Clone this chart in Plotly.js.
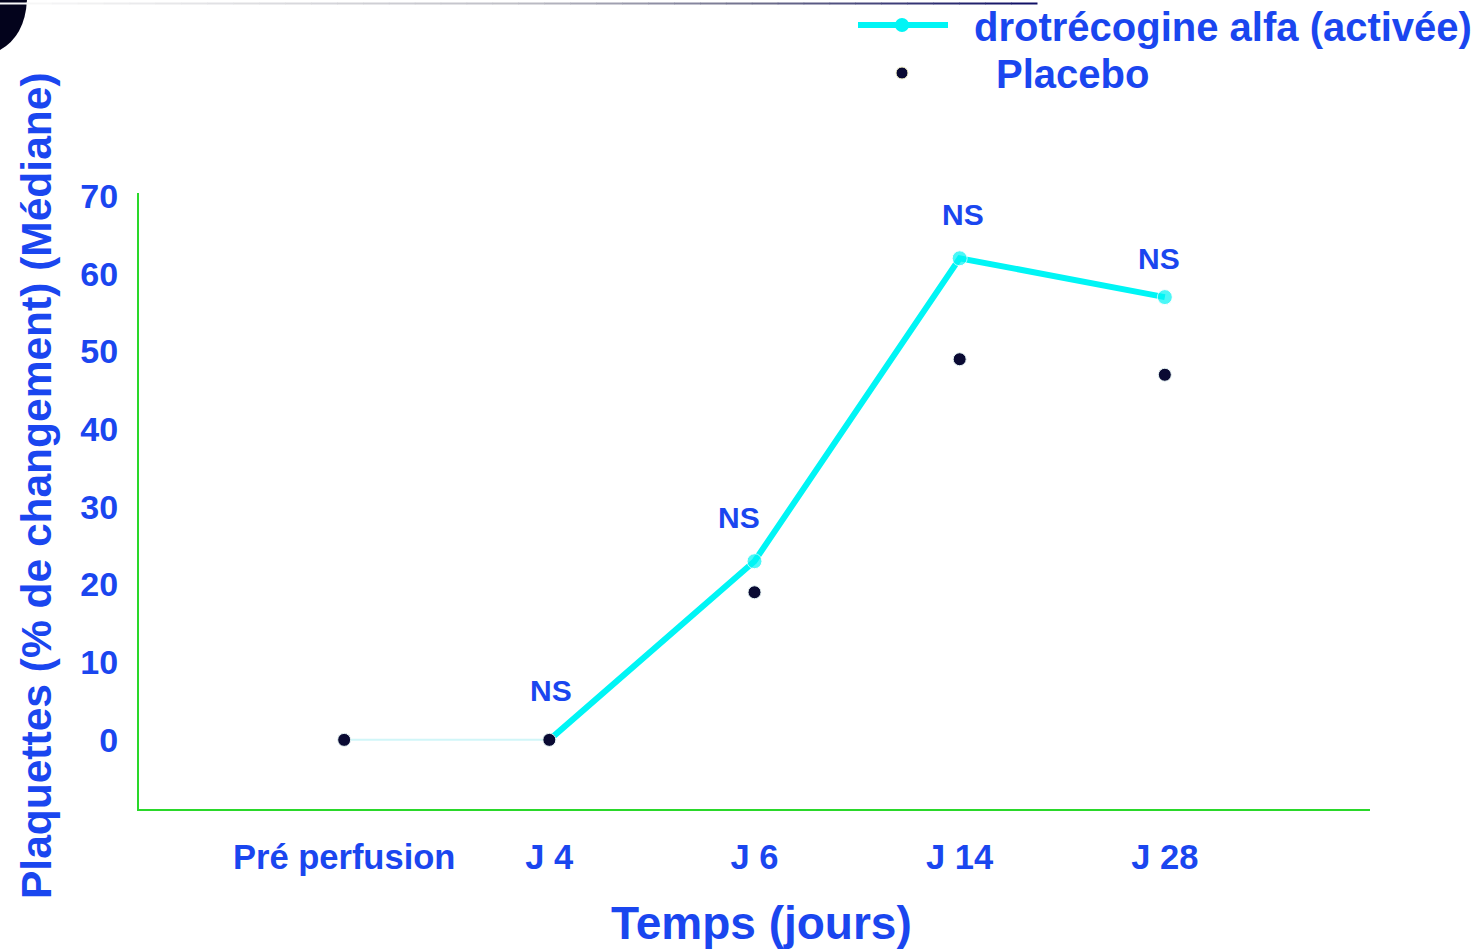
<!DOCTYPE html>
<html>
<head>
<meta charset="utf-8">
<script src="https://cdn.plot.ly/plotly-3.0.1.min.js"></script>
<style>
  html, body { margin: 0; padding: 0; background: #ffffff; }
  #chart { width: 1481px; height: 951px; }
</style>
</head>
<body>
<div id="chart"></div>
<script>
// Platelet count, median % change from baseline
const timepoints = ['Pré perfusion', 'J 4', 'J 6', 'J 14', 'J 28'];
const drotrecogin = [0, 0, 23, 62, 57];
const placebo = [0, 0, 19, 49, 47];
const nsLabels = ['NS', 'NS', 'NS', 'NS'];          // shown above J 4 … J 28
const nsPoints = timepoints.slice(1);
const nsValues = drotrecogin.slice(1);

const BLUE = '#1a46ef';
const CYAN = '#00f5f5';
const NAVY = '#0a0a33';
const GREEN = '#2ad82a';
const FONT = 'Liberation Sans, Arial, sans-serif';

const W = 1481, H = 951;
const M = { l: 139, r: 111, t: 193, b: 142 };
const plotW = W - M.l - M.r, plotH = H - M.t - M.b;
// page pixel -> paper coordinates (for decorations outside the plot)
const px = x => (x - M.l) / plotW;
const py = y => (H - M.b - y) / plotH;

const traces = [
  { // faint link between the first two timepoints
    x: timepoints.slice(0, 2), y: drotrecogin.slice(0, 2),
    type: 'scatter', mode: 'lines',
    line: { color: 'rgba(150,235,240,0.45)', width: 2 },
    showlegend: false, hoverinfo: 'skip'
  },
  {
    x: timepoints.slice(1), y: drotrecogin.slice(1),
    name: 'drotrécogine alfa (activée)',
    type: 'scatter', mode: 'lines+markers',
    line: { color: CYAN, width: 6 },
    marker: { color: CYAN, size: [0, 15, 15, 15] },
    showlegend: false
  },
  {
    x: timepoints, y: placebo,
    name: 'Placebo',
    type: 'scatter', mode: 'markers',
    marker: { color: NAVY, size: 13, line: { color: '#e6f4f4', width: 1 } },
    showlegend: false
  }
];

const nsShiftX = [2, -16, 3, -6];
const nsShiftY = [49, 44, 44, 39];
const annotations = nsLabels.map((t, i) => ({
  x: nsPoints[i], y: nsValues[i], xref: 'x', yref: 'y',
  text: '<b>' + t + '</b>', showarrow: false,
  xshift: nsShiftX[i], yshift: nsShiftY[i],
  font: { family: FONT, size: 30, color: BLUE }
}));

// axis titles
annotations.push(
  { x: px(761), y: py(923), xref: 'paper', yref: 'paper', xanchor: 'center', yanchor: 'middle',
    text: '<b>Temps (jours)</b>', showarrow: false,
    font: { family: FONT, size: 46, color: BLUE } },
  { x: px(36), y: py(486), xref: 'paper', yref: 'paper', xanchor: 'center', yanchor: 'middle',
    textangle: -90, text: '<b>Plaquettes (% de changement) (Médiane)</b>', showarrow: false,
    font: { family: FONT, size: 42.5, color: BLUE } }
);

// legend drawn as text beside its symbols
annotations.push(
  { x: px(972), y: py(27), xref: 'paper', yref: 'paper', xanchor: 'left', yanchor: 'middle',
    text: '<b>drotrécogine alfa (activée)</b>', showarrow: false,
    font: { family: FONT, size: 40, color: BLUE } },
  { x: px(994), y: py(74), xref: 'paper', yref: 'paper', xanchor: 'left', yanchor: 'middle',
    text: '<b>Placebo</b>', showarrow: false,
    font: { family: FONT, size: 40, color: BLUE } }
);

const shapes = [
  // legend symbols
  { type: 'line', xref: 'paper', yref: 'paper', x0: px(858), x1: px(948), y0: py(25), y1: py(25),
    line: { color: CYAN, width: 6 } },
  { type: 'circle', xref: 'paper', yref: 'paper', x0: px(895), x1: px(909), y0: py(32), y1: py(18),
    fillcolor: CYAN, line: { width: 0 } },
  { type: 'circle', xref: 'paper', yref: 'paper', x0: px(896), x1: px(908), y0: py(79), y1: py(67),
    fillcolor: NAVY, line: { color: '#f2f2c8', width: 1 } },
  // dark corner ornament
  { type: 'path', xref: 'paper', yref: 'paper',
    path: `M ${px(0)},${py(0)} L ${px(27)},${py(0)} Q ${px(25)},${py(36)} ${px(0)},${py(50)} Z`,
    fillcolor: '#03031c', line: { width: 0 } }
];

// thin rule along the top edge, fading from light grey to navy
const stops = [[0, [250, 250, 250]], [520, [190, 190, 198]], [760, [110, 110, 140]], [1037, [12, 12, 100]]];
const segs = 40;
for (let i = 0; i < segs; i++) {
  const a = i / segs * 1037, b = (i + 1) / segs * 1037, m = (a + b) / 2;
  let k = 0; while (k < stops.length - 2 && m > stops[k + 1][0]) k++;
  const f = (m - stops[k][0]) / (stops[k + 1][0] - stops[k][0]);
  const c = stops[k][1].map((v, j) => Math.round(v + f * (stops[k + 1][1][j] - v)));
  shapes.push({ type: 'line', xref: 'paper', yref: 'paper', x0: px(a), x1: px(b + 0.5), y0: py(3.5), y1: py(3.5),
    line: { color: `rgb(${c.join(',')})`, width: 2 } });
}

const layout = {
  width: W, height: H,
  margin: M,
  paper_bgcolor: '#ffffff', plot_bgcolor: '#ffffff',
  showlegend: false,
  font: { family: FONT, color: BLUE },
  xaxis: {
    type: 'category', range: [-1, 5],
    showgrid: false, zeroline: false,
    showline: true, linecolor: GREEN, linewidth: 2,
    ticks: '', ticklabelstandoff: 17,
    tickfont: { family: FONT, size: 34.5, color: BLUE, weight: 'bold' }
  },
  yaxis: {
    range: [-8.9, 70.4], tickvals: [0, 10, 20, 30, 40, 50, 60, 70],
    showgrid: false, zeroline: false,
    showline: true, linecolor: GREEN, linewidth: 2,
    ticks: '', ticklabelstandoff: 12,
    tickfont: { family: FONT, size: 34, color: BLUE, weight: 'bold' }
  },
  annotations: annotations,
  shapes: shapes
};

Plotly.newPlot('chart', traces, layout, { displayModeBar: false, staticPlot: true });
</script>
</body>
</html>
